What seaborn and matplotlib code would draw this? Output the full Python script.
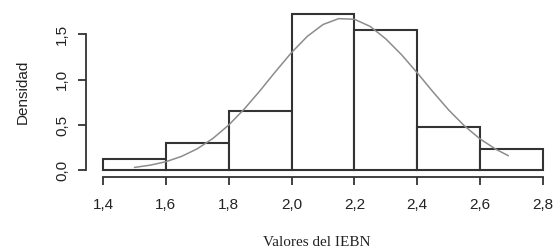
import matplotlib
matplotlib.use("Agg")
import matplotlib.pyplot as plt
import seaborn as sns

# histogram of IEBN values (density per 0.2-wide bin)
bin_edges = [1.4, 1.6, 1.8, 2.0, 2.2, 2.4, 2.6, 2.8]
bin_mids = [1.5, 1.7, 1.9, 2.1, 2.3, 2.5, 2.7]
densities = [0.12, 0.30, 0.655, 1.73, 1.55, 0.48, 0.24]

# normal curve
curve_x = [1.50, 1.55, 1.60, 1.65, 1.70, 1.75, 1.80, 1.85, 1.90, 1.95, 2.00,
           2.05, 2.10, 2.15, 2.20, 2.25, 2.30, 2.35, 2.40, 2.45, 2.50, 2.55,
           2.60, 2.65, 2.69]
curve_y = [0.031, 0.056, 0.094, 0.153, 0.237, 0.352, 0.499, 0.678, 0.880,
           1.094, 1.300, 1.478, 1.609, 1.674, 1.667, 1.588, 1.450, 1.275,
           1.075, 0.865, 0.665, 0.490, 0.345, 0.232, 0.160]

x_ticks = [1.4, 1.6, 1.8, 2.0, 2.2, 2.4, 2.6, 2.8]
x_labels = ["1,4", "1,6", "1,8", "2,0", "2,2", "2,4", "2,6", "2,8"]
y_ticks = [0.0, 0.5, 1.0, 1.5]
y_labels = ["0,0", "0,5", "1,0", "1,5"]

sns.set_style("white")
plt.rcParams["font.family"] = ["Liberation Sans", "DejaVu Sans"]

fig = plt.figure(figsize=(5.58, 2.52), dpi=100)
ax = fig.add_axes([86 / 558, 1 - 176.7 / 252, 462 / 558, 176.7 / 252])

sns.histplot(x=bin_mids, weights=densities, bins=bin_edges, stat="count",
             color="white", edgecolor="#333333", linewidth=1.5, alpha=1,
             ax=ax)
sns.lineplot(x=curve_x, y=curve_y, color="#8c8c8c", linewidth=1.1, ax=ax)

ax.set_xlim(1.4 - 17 / 314.3, 2.8 + 5 / 314.3)
ax.set_ylim(-6.7 / 94, 176.7 / 94)

for s in ["top", "right"]:
    ax.spines[s].set_visible(False)
for s in ["left", "bottom"]:
    ax.spines[s].set_color("#333333")
    ax.spines[s].set_linewidth(1.3)
ax.spines["left"].set_bounds(0, 1.5)
ax.spines["bottom"].set_bounds(1.4, 2.8)

ax.set_xticks(x_ticks, x_labels)
ax.set_yticks(y_ticks, y_labels, rotation=90, va="center")
ax.tick_params(axis="both", direction="out", length=6, width=1.3,
               color="#333333", labelsize=11, labelcolor="#222222",
               bottom=True, left=True)
ax.tick_params(axis="x", pad=9)
ax.tick_params(axis="y", pad=6)

ax.set_xlabel("Valores del IEBN", fontsize=11, family="Liberation Serif",
              color="#222222", labelpad=17.5)
ax.set_ylabel("Densidad", fontsize=11, color="#222222")
ax.yaxis.set_label_coords(-56 / 462, 85 / 176.7)

fig.savefig("out.png", dpi=100)
